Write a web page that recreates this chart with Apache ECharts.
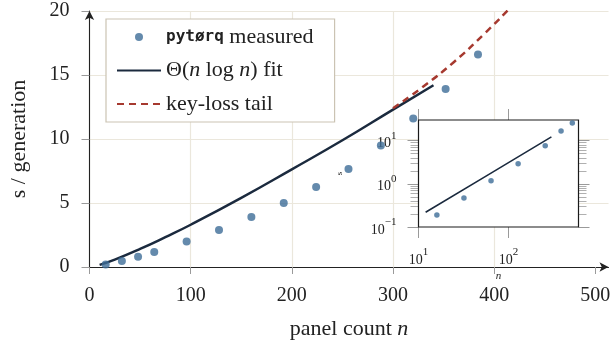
<!DOCTYPE html>
<html>
<head>
<meta charset="utf-8">
<script src="https://cdn.jsdelivr.net/npm/echarts@6/dist/echarts.min.js"></script>
<style>
  html, body { margin: 0; padding: 0; background: #fff; }
  #chart { width: 615px; height: 345px; }
</style>
</head>
<body>
<div id="chart"></div>
<script>
// main axis ticks
const xTicks = [0, 100, 200, 300, 400, 500]
const yTicks = [0, 5, 10, 15, 20]

// measured seconds per generation (last point only shows in the inset)
const nMeasured = [16, 32, 48, 64, 96, 128, 160, 192, 224, 256, 288, 320, 352, 384, 512]
const sMeasured = [0.19, 0.47, 0.8, 1.18, 2.0, 2.9, 3.9, 5.0, 6.25, 7.65, 9.5, 11.6, 13.9, 16.6, 25.6]

// Θ(n log n) fit
const nFit = [10, 25, 50, 75, 100, 150, 200, 250, 300, 340]
const sFit = [0.17, 0.58, 1.41, 2.33, 3.3, 5.4, 7.63, 9.9, 12.3, 14.2]

// key-loss tail
const nTail = [300, 330, 360, 390, 420, 450]
const sTail = [12.4, 14.1, 16.0, 18.2, 20.6, 23.2]

// inset (log-log)
const nInset = [16, 32, 64, 128, 256, 384, 512]
const nFitInset = [12, 60, 300]
const sFitInset = [0.22, 1.63, 12.2]
const insetXTicks = [10, 100]
const insetYTicks = [0.1, 1, 10]
const insetYMinor = [0.2, 0.3, 0.4, 0.5, 0.6, 0.7, 0.8, 0.9, 2, 3, 4, 5, 6, 7, 8, 9]

const serif = 'Liberation Serif'
const mono = 'DejaVu Sans Mono'
const dotColor = '#3d6d97'
const fitColor = '#1b2a3e'
const tailColor = '#a6392f'
const gridColor = '#ebe7dc'
const tickColor = '#9a9a9a'

const pairs = (xs, ys) => xs.map((x, i) => [x, ys[i]])

const insetPoints = nInset.map(n => [n, sMeasured[nMeasured.indexOf(n)]])

const supLabel = (v) => {
  const e = Math.round(Math.log10(v))
  return '{b|10}{e|' + (e < 0 ? '\u2212' + (-e) : e) + '}'
}
const supRich = {
  b: { fontFamily: serif, fontSize: 14, color: '#222', lineHeight: 20, verticalAlign: 'bottom' },
  e: { fontFamily: serif, fontSize: 11, color: '#222', lineHeight: 20, verticalAlign: 'top' }
}

const insetAxisBase = {
  gridIndex: 1,
  type: 'log',
  logBase: 10,
  axisLine: { show: false },
  splitLine: { show: false },
  minorTick: { show: false },
  minorSplitLine: { show: false }
}

const chart = echarts.init(document.getElementById('chart'), null, { renderer: 'canvas' })

const option = {
  backgroundColor: '#fff',
  animation: false,
  grid: [
    { left: 89.5, top: 11, width: 519, height: 257 },
    {
      left: 418.5, top: 120, width: 160, height: 107,
      show: true, backgroundColor: '#fff', borderColor: '#1a1a1a', borderWidth: 1.2, z: 3
    }
  ],
  legend: {
    // line entries: hide the marker drawn in the middle of the icon
    data: [
      { name: 'pytørq measured' },
      { name: 'Θ(n log n) fit', itemStyle: { opacity: 0 } },
      { name: 'key-loss tail', itemStyle: { opacity: 0 } }
    ],
    orient: 'vertical',
    left: 106,
    top: 19,
    itemWidth: 44,
    itemHeight: 8,
    itemGap: 11.5,
    padding: [7, 21, 7, 10],
    backgroundColor: '#fff',
    borderColor: '#cbc3b3',
    borderWidth: 1.2,
    borderRadius: 0,
    z: 6,
    formatter: (name) => {
      if (name === 'pytørq measured') return '{m|pytørq} {t|measured}'
      if (name === 'Θ(n log n) fit') return '{t|Θ(}{i|n}{t| log }{i|n}{t|) fit}'
      return '{t|' + name + '}'
    },
    textStyle: {
      fontFamily: serif,
      fontSize: 22,
      color: '#222',
      lineHeight: 20,
      rich: {
        t: { fontFamily: serif, fontSize: 22, color: '#222', lineHeight: 20 },
        i: { fontFamily: serif, fontSize: 22, fontStyle: 'italic', color: '#222', lineHeight: 20 },
        m: { fontFamily: mono, fontSize: 16, fontWeight: 'bold', color: '#222', lineHeight: 20 }
      }
    }
  },
  xAxis: [
    {
      gridIndex: 0,
      type: 'value',
      min: 0,
      max: 513,
      interval: 100,
      name: 'panel count {i|n}',
      nameLocation: 'middle',
      nameGap: 51,
      nameTextStyle: {
        fontFamily: serif, fontSize: 22, color: '#222',
        rich: { i: { fontFamily: serif, fontSize: 22, fontStyle: 'italic', color: '#222' } }
      },
      axisLine: {
        lineStyle: { color: '#222', width: 1.1 },
        symbol: ['none', 'arrow'],
        symbolSize: [7, 9]
      },
      axisTick: { length: 7, lineStyle: { color: tickColor }, customValues: xTicks },
      axisLabel: {
        customValues: xTicks, margin: 19,
        fontFamily: serif, fontSize: 20, color: '#222'
      },
      splitLine: { show: true, showMaxLine: false, lineStyle: { color: gridColor, width: 1.2 } }
    },
    Object.assign({}, insetAxisBase, {
      min: 10,
      max: 600,
      position: 'bottom',
      name: 'n',
      nameLocation: 'middle',
      nameGap: 44,
      nameTextStyle: { fontFamily: serif, fontSize: 11, fontStyle: 'italic', color: '#222' },
      axisTick: { length: 11, lineStyle: { color: tickColor }, customValues: insetXTicks },
      axisLabel: { customValues: insetXTicks, margin: 20, formatter: supLabel, rich: supRich }
    }),
    Object.assign({}, insetAxisBase, {
      min: 10,
      max: 600,
      position: 'top',
      axisTick: { length: 11, lineStyle: { color: tickColor }, customValues: insetXTicks },
      axisLabel: { show: false }
    })
  ],
  yAxis: [
    {
      gridIndex: 0,
      type: 'value',
      min: 0,
      max: 20,
      interval: 5,
      name: 's / generation',
      nameLocation: 'middle',
      nameRotate: 90,
      nameGap: 59,
      nameTextStyle: { fontFamily: serif, fontSize: 22, color: '#222' },
      axisLine: {
        show: true,
        lineStyle: { color: '#222', width: 1.1 },
        symbol: ['none', 'arrow'],
        symbolSize: [7, 9]
      },
      axisTick: { show: true, length: 8, lineStyle: { color: tickColor }, customValues: yTicks },
      axisLabel: {
        customValues: yTicks, margin: 20,
        fontFamily: serif, fontSize: 20, color: '#222'
      },
      splitLine: { show: true, lineStyle: { color: gridColor, width: 1.2 } }
    },
    Object.assign({}, insetAxisBase, {
      min: 0.1,
      max: 30,
      position: 'left',
      name: 's',
      nameLocation: 'middle',
      nameRotate: 90,
      nameGap: 74,
      nameTextStyle: { fontFamily: serif, fontSize: 9, color: '#222' },
      axisTick: { length: 11, lineStyle: { color: tickColor }, customValues: insetYTicks },
      axisLabel: { customValues: insetYTicks, margin: 22, formatter: supLabel, rich: supRich }
    }),
    Object.assign({}, insetAxisBase, {
      min: 0.1,
      max: 30,
      position: 'left',
      axisTick: { length: 8, lineStyle: { color: '#b0b0b0' }, customValues: insetYMinor },
      axisLabel: { show: false }
    }),
    Object.assign({}, insetAxisBase, {
      min: 0.1,
      max: 30,
      position: 'right',
      axisTick: { length: 11, lineStyle: { color: tickColor }, customValues: insetYTicks },
      axisLabel: { show: false }
    }),
    Object.assign({}, insetAxisBase, {
      min: 0.1,
      max: 30,
      position: 'right',
      axisTick: { length: 8, lineStyle: { color: '#b0b0b0' }, customValues: insetYMinor },
      axisLabel: { show: false }
    })
  ],
  series: [
    {
      name: 'pytørq measured',
      type: 'scatter',
      xAxisIndex: 0,
      yAxisIndex: 0,
      data: pairs(nMeasured, sMeasured),
      symbolSize: 8,
      itemStyle: { color: dotColor },
      clip: true,
      z: 2
    },
    {
      name: 'Θ(n log n) fit',
      type: 'line',
      xAxisIndex: 0,
      yAxisIndex: 0,
      data: pairs(nFit, sFit),
      smooth: true,
      symbol: 'none',
      lineStyle: { color: fitColor, width: 2.5 },
      itemStyle: { color: fitColor },
      z: 2
    },
    {
      name: 'key-loss tail',
      type: 'line',
      xAxisIndex: 0,
      yAxisIndex: 0,
      data: pairs(nTail, sTail),
      smooth: true,
      symbol: 'none',
      clip: true,
      lineStyle: { color: tailColor, width: 2.5, type: [7, 5] },
      itemStyle: { color: tailColor },
      z: 2
    },
    {
      name: 'inset fit',
      type: 'line',
      xAxisIndex: 1,
      yAxisIndex: 1,
      data: pairs(nFitInset, sFitInset),
      symbol: 'none',
      lineStyle: { color: fitColor, width: 1.6 },
      z: 5
    },
    {
      name: 'inset measured',
      type: 'scatter',
      xAxisIndex: 1,
      yAxisIndex: 1,
      data: insetPoints,
      symbolSize: 5.5,
      itemStyle: { color: dotColor },
      z: 5
    }
  ]
}

chart.setOption(option)
</script>
</body>
</html>
